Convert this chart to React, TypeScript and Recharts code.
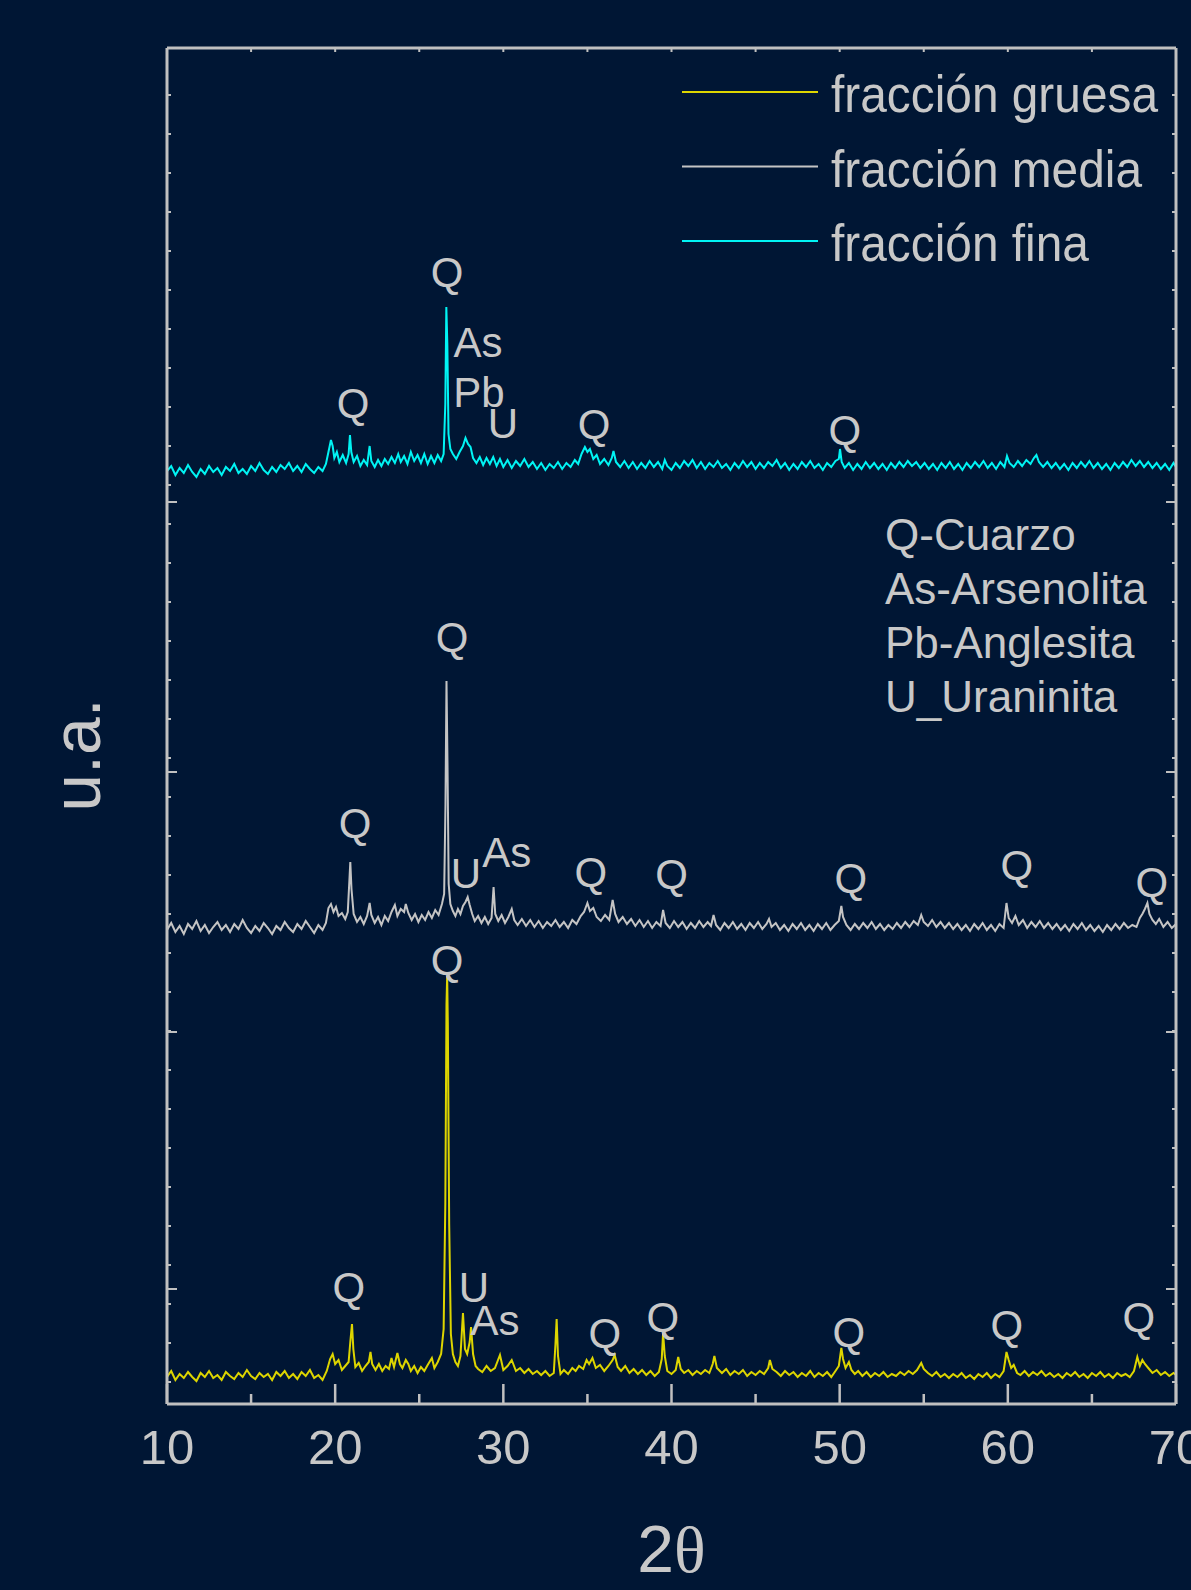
import React from 'react';
import { LineChart, Line, XAxis, YAxis, ReferenceDot, Legend } from 'recharts';

// XRD patterns: 2θ (deg) vs intensity (u.a.), each fraction offset vertically
const fracGruesa: [number, number][] = [
  [10.0, 27], [10.25, 33], [10.5, 24], [10.75, 30], [11.0, 26], [11.25, 32], [11.5, 27], [11.75, 23],
  [12.0, 31], [12.25, 27], [12.5, 33], [12.75, 26], [13.0, 29], [13.25, 24], [13.5, 32], [13.75, 28],
  [14.0, 25], [14.25, 31], [14.5, 27], [14.75, 34], [15.0, 28], [15.25, 25], [15.5, 31], [15.75, 27],
  [16.0, 30], [16.25, 24], [16.5, 32], [16.75, 28], [17.0, 33], [17.25, 26], [17.5, 30], [17.75, 25],
  [18.0, 32], [18.25, 28], [18.5, 34], [18.75, 26], [19.0, 29], [19.25, 24], [19.5, 33], [19.7, 45],
  [19.85, 50], [20.0, 40], [20.2, 44], [20.4, 34], [20.6, 38], [20.8, 42], [20.9, 62], [21.0, 80],
  [21.08, 55], [21.2, 37], [21.4, 41], [21.6, 33], [21.8, 38], [22.0, 42], [22.1, 52], [22.2, 40],
  [22.4, 34], [22.6, 40], [22.8, 33], [23.0, 38], [23.2, 35], [23.35, 46], [23.5, 37], [23.7, 51],
  [23.85, 40], [24.0, 36], [24.2, 44], [24.35, 40], [24.5, 33], [24.7, 38], [24.9, 31], [25.1, 37],
  [25.3, 33], [25.5, 39], [25.75, 46], [25.9, 36], [26.1, 42], [26.3, 50], [26.45, 75], [26.55, 200],
  [26.62, 400], [26.66, 428], [26.7, 380], [26.78, 180], [26.88, 70], [27.0, 50], [27.15, 42], [27.3, 38],
  [27.45, 48], [27.6, 91], [27.72, 55], [27.85, 50], [28.0, 62], [28.08, 77], [28.2, 50], [28.35, 38],
  [28.5, 35], [28.75, 32], [29.0, 38], [29.25, 33], [29.5, 36], [29.8, 49], [30.0, 34], [30.25, 38],
  [30.5, 44], [30.75, 33], [31.0, 36], [31.25, 31], [31.5, 35], [31.75, 30], [32.0, 33], [32.25, 29],
  [32.5, 33], [32.75, 28], [33.0, 31], [33.1, 60], [33.17, 85], [33.25, 48], [33.4, 30], [33.6, 34],
  [33.85, 30], [34.1, 36], [34.3, 33], [34.5, 38], [34.75, 35], [34.95, 44], [35.1, 40], [35.3, 46],
  [35.5, 36], [35.75, 39], [36.0, 33], [36.25, 38], [36.5, 44], [36.62, 49], [36.8, 37], [37.0, 33],
  [37.25, 38], [37.5, 31], [37.75, 35], [38.0, 30], [38.25, 34], [38.5, 29], [38.75, 33], [39.0, 28],
  [39.25, 32], [39.42, 45], [39.5, 71], [39.6, 48], [39.75, 33], [40.0, 30], [40.25, 34], [40.4, 47],
  [40.55, 35], [40.75, 31], [41.0, 34], [41.25, 29], [41.5, 33], [41.75, 30], [42.0, 34], [42.25, 31],
  [42.45, 40], [42.55, 48], [42.7, 36], [43.0, 31], [43.25, 35], [43.5, 29], [43.75, 33], [44.0, 30],
  [44.25, 34], [44.5, 28], [44.75, 32], [45.0, 29], [45.25, 33], [45.5, 30], [45.75, 36], [45.85, 44],
  [46.0, 35], [46.25, 32], [46.5, 28], [46.75, 33], [47.0, 29], [47.25, 32], [47.5, 27], [47.75, 31],
  [48.0, 28], [48.25, 33], [48.5, 27], [48.75, 31], [49.0, 28], [49.25, 32], [49.5, 27], [49.75, 33],
  [49.95, 38], [50.1, 56], [50.2, 45], [50.35, 36], [50.55, 42], [50.7, 34], [50.9, 30], [51.1, 33],
  [51.35, 28], [51.6, 32], [51.85, 27], [52.1, 31], [52.35, 28], [52.6, 32], [52.85, 27], [53.1, 30],
  [53.35, 28], [53.6, 32], [53.85, 29], [54.1, 33], [54.35, 30], [54.6, 34], [54.85, 41], [55.0, 35],
  [55.25, 31], [55.5, 28], [55.75, 32], [56.0, 27], [56.25, 30], [56.5, 26], [56.75, 30], [57.0, 27],
  [57.25, 31], [57.5, 26], [57.75, 29], [58.0, 25], [58.25, 30], [58.5, 27], [58.75, 31], [59.0, 26],
  [59.25, 30], [59.5, 27], [59.75, 33], [59.92, 52], [60.05, 44], [60.2, 36], [60.35, 39], [60.55, 31],
  [60.75, 29], [61.0, 33], [61.25, 28], [61.5, 32], [61.75, 29], [62.0, 33], [62.25, 28], [62.5, 31],
  [62.75, 27], [63.0, 30], [63.25, 26], [63.5, 31], [63.75, 28], [64.0, 32], [64.25, 27], [64.5, 30],
  [64.75, 26], [65.0, 31], [65.25, 28], [65.5, 32], [65.75, 27], [66.0, 30], [66.25, 26], [66.5, 31],
  [66.75, 28], [67.0, 30], [67.25, 27], [67.5, 33], [67.7, 47], [67.85, 38], [68.0, 44], [68.15, 40],
  [68.35, 36], [68.6, 31], [68.85, 34], [69.1, 29], [69.35, 32], [69.6, 28], [69.85, 31], [70.0, 29],
];

const fracMedia: [number, number][] = [
  [10.0, 474], [10.25, 481], [10.5, 472], [10.75, 478], [11.0, 470], [11.25, 480], [11.5, 475], [11.75, 483],
  [12.0, 473], [12.25, 479], [12.5, 471], [12.75, 477], [13.0, 482], [13.25, 474], [13.5, 479], [13.75, 472],
  [14.0, 480], [14.25, 475], [14.5, 484], [14.75, 476], [15.0, 471], [15.25, 478], [15.5, 473], [15.75, 481],
  [16.0, 476], [16.25, 470], [16.5, 478], [16.75, 474], [17.0, 482], [17.25, 476], [17.5, 472], [17.75, 480],
  [18.0, 475], [18.25, 483], [18.5, 477], [18.75, 471], [19.0, 479], [19.25, 474], [19.45, 481], [19.6, 496],
  [19.75, 500], [19.9, 492], [20.05, 497], [20.2, 488], [20.4, 491], [20.6, 485], [20.75, 492], [20.85, 525],
  [20.9, 542], [20.97, 515], [21.1, 490], [21.3, 482], [21.5, 487], [21.7, 480], [21.9, 488], [22.05, 501],
  [22.15, 489], [22.35, 481], [22.55, 487], [22.75, 479], [22.95, 488], [23.15, 483], [23.35, 492], [23.55, 499],
  [23.7, 488], [23.9, 495], [24.1, 492], [24.2, 500], [24.35, 491], [24.55, 484], [24.75, 490], [24.95, 482],
  [25.15, 489], [25.35, 484], [25.55, 492], [25.75, 486], [25.95, 494], [26.15, 489], [26.35, 500], [26.48, 510],
  [26.56, 600], [26.62, 723], [26.68, 640], [26.75, 520], [26.85, 500], [27.0, 493], [27.15, 488], [27.3, 495],
  [27.45, 490], [27.6, 498], [27.75, 502], [27.88, 507], [28.0, 499], [28.15, 490], [28.3, 483], [28.5, 488],
  [28.7, 481], [28.9, 487], [29.1, 480], [29.3, 486], [29.42, 517], [29.52, 490], [29.7, 483], [29.9, 489],
  [30.1, 481], [30.3, 487], [30.5, 495], [30.65, 484], [30.85, 479], [31.1, 485], [31.35, 478], [31.6, 484],
  [31.85, 477], [32.1, 483], [32.35, 476], [32.6, 482], [32.85, 478], [33.1, 484], [33.35, 477], [33.6, 482],
  [33.85, 476], [34.1, 484], [34.35, 480], [34.6, 488], [34.8, 492], [35.0, 501], [35.15, 493], [35.35, 496],
  [35.55, 487], [35.8, 483], [36.05, 489], [36.3, 484], [36.5, 504], [36.65, 490], [36.85, 482], [37.1, 487],
  [37.35, 480], [37.6, 485], [37.85, 478], [38.1, 484], [38.35, 477], [38.6, 483], [38.85, 476], [39.1, 482],
  [39.35, 478], [39.5, 494], [39.65, 481], [39.9, 476], [40.15, 483], [40.4, 477], [40.65, 482], [40.9, 475],
  [41.15, 481], [41.4, 476], [41.65, 483], [41.9, 477], [42.15, 482], [42.35, 478], [42.5, 489], [42.65, 479],
  [42.9, 474], [43.15, 481], [43.4, 476], [43.65, 482], [43.9, 475], [44.15, 480], [44.4, 474], [44.65, 481],
  [44.9, 476], [45.15, 482], [45.4, 475], [45.65, 480], [45.8, 485], [45.95, 477], [46.2, 481], [46.45, 474],
  [46.7, 479], [46.95, 473], [47.2, 480], [47.45, 475], [47.7, 481], [47.95, 474], [48.2, 479], [48.45, 473],
  [48.7, 480], [48.95, 475], [49.2, 481], [49.45, 474], [49.7, 479], [49.95, 483], [50.1, 498], [50.2, 487],
  [50.4, 479], [50.65, 474], [50.9, 480], [51.15, 475], [51.4, 481], [51.65, 476], [51.9, 482], [52.15, 475],
  [52.4, 480], [52.65, 474], [52.9, 479], [53.15, 475], [53.4, 481], [53.65, 476], [53.9, 482], [54.15, 477],
  [54.4, 483], [54.65, 479], [54.85, 489], [55.0, 482], [55.25, 478], [55.5, 484], [55.75, 477], [56.0, 482],
  [56.25, 476], [56.5, 481], [56.75, 475], [57.0, 480], [57.25, 474], [57.5, 479], [57.75, 473], [58.0, 480],
  [58.25, 475], [58.5, 481], [58.75, 474], [59.0, 479], [59.25, 473], [59.5, 480], [59.75, 476], [59.92, 501],
  [60.05, 486], [60.25, 481], [60.45, 488], [60.65, 479], [60.9, 484], [61.15, 476], [61.4, 482], [61.65, 477],
  [61.9, 483], [62.15, 476], [62.4, 481], [62.65, 475], [62.9, 480], [63.15, 474], [63.4, 479], [63.65, 473],
  [63.9, 480], [64.15, 475], [64.4, 481], [64.65, 474], [64.9, 479], [65.15, 473], [65.4, 478], [65.65, 472],
  [65.9, 479], [66.15, 474], [66.4, 480], [66.65, 475], [66.9, 481], [67.15, 476], [67.4, 479], [67.65, 477],
  [67.85, 486], [68.0, 490], [68.15, 495], [68.3, 501], [68.42, 490], [68.6, 484], [68.8, 480], [69.0, 485],
  [69.25, 477], [69.5, 482], [69.75, 476], [70.0, 480],
];

const fracFina: [number, number][] = [
  [10.0, 933], [10.25, 938], [10.5, 929], [10.75, 936], [11.0, 931], [11.25, 939], [11.5, 932], [11.75, 927],
  [12.0, 935], [12.25, 930], [12.5, 938], [12.75, 932], [13.0, 936], [13.25, 929], [13.5, 937], [13.75, 933],
  [14.0, 940], [14.25, 931], [14.5, 935], [14.75, 930], [15.0, 938], [15.25, 933], [15.5, 941], [15.75, 934],
  [16.0, 930], [16.25, 937], [16.5, 932], [16.75, 939], [17.0, 935], [17.25, 941], [17.5, 933], [17.75, 938],
  [18.0, 932], [18.25, 940], [18.5, 935], [18.75, 931], [19.0, 937], [19.25, 933], [19.45, 940], [19.6, 952],
  [19.75, 964], [19.85, 958], [19.95, 946], [20.1, 952], [20.25, 942], [20.45, 949], [20.65, 941], [20.8, 950],
  [20.88, 969], [20.96, 952], [21.1, 942], [21.3, 948], [21.5, 938], [21.7, 944], [21.9, 939], [22.05, 958],
  [22.15, 943], [22.35, 937], [22.55, 944], [22.75, 938], [22.95, 945], [23.15, 940], [23.35, 947], [23.55, 941],
  [23.75, 950], [23.9, 942], [24.1, 948], [24.3, 940], [24.5, 952], [24.7, 943], [24.9, 949], [25.1, 941],
  [25.3, 950], [25.5, 940], [25.7, 948], [25.9, 941], [26.1, 949], [26.3, 943], [26.45, 950], [26.55, 1000],
  [26.61, 1097], [26.67, 1060], [26.74, 970], [26.85, 955], [27.0, 950], [27.2, 945], [27.4, 952], [27.6, 958],
  [27.75, 966], [27.9, 960], [28.05, 957], [28.2, 946], [28.4, 941], [28.6, 947], [28.8, 939], [29.0, 946],
  [29.2, 940], [29.4, 947], [29.6, 938], [29.8, 945], [30.0, 937], [30.25, 944], [30.5, 936], [30.75, 943],
  [31.0, 938], [31.25, 945], [31.5, 937], [31.75, 942], [32.0, 935], [32.25, 941], [32.5, 934], [32.75, 940],
  [33.0, 936], [33.25, 942], [33.5, 935], [33.75, 941], [34.0, 937], [34.25, 944], [34.45, 940], [34.65, 950],
  [34.85, 957], [35.0, 952], [35.15, 955], [35.35, 945], [35.55, 949], [35.75, 940], [36.0, 945], [36.25, 939],
  [36.45, 946], [36.55, 953], [36.7, 942], [36.95, 937], [37.2, 943], [37.45, 936], [37.7, 942], [37.95, 935],
  [38.2, 941], [38.45, 936], [38.7, 943], [38.95, 937], [39.2, 942], [39.45, 935], [39.6, 944], [39.75, 938],
  [40.0, 934], [40.25, 941], [40.5, 936], [40.75, 943], [41.0, 938], [41.25, 944], [41.5, 936], [41.75, 942],
  [42.0, 935], [42.25, 941], [42.5, 937], [42.75, 943], [43.0, 936], [43.25, 940], [43.5, 934], [43.75, 941],
  [44.0, 936], [44.25, 943], [44.5, 937], [44.75, 942], [45.0, 935], [45.25, 941], [45.5, 936], [45.75, 942],
  [46.0, 938], [46.25, 944], [46.5, 936], [46.75, 941], [47.0, 934], [47.25, 940], [47.5, 935], [47.75, 942],
  [48.0, 937], [48.25, 943], [48.5, 936], [48.75, 940], [49.0, 934], [49.25, 941], [49.5, 937], [49.75, 943],
  [49.95, 945], [50.02, 955], [50.12, 942], [50.3, 936], [50.55, 941], [50.8, 934], [51.05, 940], [51.3, 935],
  [51.55, 942], [51.8, 936], [52.05, 941], [52.3, 935], [52.55, 940], [52.8, 934], [53.05, 941], [53.3, 936],
  [53.55, 942], [53.8, 937], [54.05, 943], [54.3, 938], [54.55, 942], [54.8, 936], [55.05, 941], [55.3, 935],
  [55.55, 940], [55.8, 934], [56.05, 941], [56.3, 936], [56.55, 942], [56.8, 935], [57.05, 940], [57.3, 934],
  [57.55, 941], [57.8, 936], [58.05, 942], [58.3, 937], [58.55, 943], [58.8, 936], [59.05, 941], [59.3, 935],
  [59.55, 942], [59.8, 937], [59.95, 948], [60.1, 941], [60.35, 937], [60.6, 943], [60.85, 938], [61.1, 944],
  [61.35, 940], [61.55, 946], [61.7, 949], [61.85, 942], [62.1, 937], [62.35, 942], [62.6, 936], [62.85, 941],
  [63.1, 935], [63.35, 940], [63.6, 934], [63.85, 941], [64.1, 936], [64.35, 942], [64.6, 937], [64.85, 943],
  [65.1, 936], [65.35, 941], [65.6, 935], [65.85, 940], [66.1, 934], [66.35, 941], [66.6, 936], [66.85, 942],
  [67.1, 937], [67.35, 944], [67.6, 938], [67.85, 943], [68.1, 937], [68.35, 942], [68.6, 936], [68.85, 941],
  [69.1, 935], [69.35, 940], [69.6, 934], [69.85, 941], [70.0, 937],
];

// phase labels: [2θ, intensity of text baseline, label]
const marksGruesa: [number, number, string][] = [
  [20.82, 102, 'Q'], [26.65, 429, 'Q'], [28.25, 102, 'U'], [29.5, 69, 'As'], [36.04, 56, 'Q'],
  [39.49, 72, 'Q'], [50.55, 57, 'Q'], [59.94, 64, 'Q'], [67.79, 72, 'Q'],
];
const marksMedia: [number, number, string][] = [
  [21.18, 566, 'Q'], [26.95, 752, 'Q'], [27.78, 516, 'U'], [30.21, 537, 'As'], [35.2, 517, 'Q'],
  [40.0, 515, 'Q'], [50.67, 511, 'Q'], [60.53, 524, 'Q'], [68.56, 507, 'Q'],
];
const marksFina: [number, number, string][] = [
  [21.07, 986, 'Q'], [26.65, 1117, 'Q'], [28.5, 1047, 'As'], [28.55, 997, 'Pb'], [29.98, 966, 'U'],
  [35.39, 965, 'Q'], [50.3, 959, 'Q'],
];

const seriesNames = ['fracción gruesa', 'fracción media', 'fracción fina'];
const mineralKey = ['Q-Cuarzo', 'As-Arsenolita', 'Pb-Anglesita', 'U_Uraninita'];

const xTicks = [10, 15, 20, 25, 30, 35, 40, 45, 50, 55, 60, 65, 70];
const topTicks = [15, 20, 25, 30, 35, 40, 45, 50, 55, 60, 65];
const yMinorTicks = [
  1309, 1270, 1231, 1192, 1153, 1114, 1075, 1036, 997, 958, 919, 880, 841, 802, 763, 724, 685,
  646, 607, 568, 529, 490, 451, 412, 373, 334, 295, 256, 217, 178, 139, 100, 61, 22,
];
const yMajorTicks = [902, 632, 372, 115];

const BG = '#001634';
const INK = '#c8c8c8';
const AXIS = '#c0c0c0';
const COLORS = ['#ddd500', '#c4c4c4', '#00f4f4'];
const SANS = "'Liberation Sans', Arial, sans-serif";

const toRows = (pts: [number, number][]) => pts.map(([t, v]) => ({ t, v }));

const BottomTick = (props: any) => {
  const { x, y, payload } = props;
  const major = payload.value % 10 === 0;
  return (
    <g>
      <line x1={x} y1={y} x2={x} y2={y - (major ? 20 : 10)} stroke={AXIS} strokeWidth={2.5} />
      {major && (
        <text x={x} y={y + 60} textAnchor="middle" fill={INK} fontSize={49} fontFamily={SANS}>
          {payload.value}
        </text>
      )}
    </g>
  );
};

const TopTick = (props: any) => {
  const { x, y } = props;
  return <line x1={x} y1={y} x2={x} y2={y + 4} stroke={AXIS} strokeWidth={2} />;
};

const SideTick = (dir: number) => (props: any) => {
  const { x, y, payload } = props;
  const len = yMajorTicks.includes(payload.value) ? 10 : 4;
  return <line x1={x} y1={y} x2={x + dir * len} y2={y} stroke={AXIS} strokeWidth={2} />;
};

const renderMarks = (marks: [number, number, string][], prefix: string) =>
  marks.map(([t, v, s], i) => (
    <ReferenceDot
      key={prefix + i}
      xAxisId="bottom"
      yAxisId="left"
      x={t}
      y={v}
      r={0}
      ifOverflow="visible"
      shape={(p: any) => (
        <text x={p.cx} y={p.cy} textAnchor="middle" fill={INK} fontSize={42} fontFamily={SANS}>
          {s}
        </text>
      )}
    />
  ));

const LegendBox = (props: any) => {
  const payload = [...(props.payload || [])].sort(
    (a: any, b: any) => seriesNames.indexOf(a.value) - seriesNames.indexOf(b.value)
  );
  return (
    <svg width={1191} height={1590} style={{ position: 'absolute', top: 0, left: 0 }}>
      {payload.map((entry: any, i: number) => (
        <g key={entry.value}>
          <line x1={682} x2={818} y1={92 + i * 74.5} y2={92 + i * 74.5} stroke={entry.color} strokeWidth={2} />
          <text
            transform={`translate(831 ${112 + i * 74.5}) scale(0.92 1)`}
            fill={INK}
            fontSize={52}
            fontFamily={SANS}
          >
            {entry.value}
          </text>
        </g>
      ))}
      {mineralKey.map((k, i) => (
        <text key={k} x={885} y={550 + i * 54} fill={INK} fontSize={44} fontFamily={SANS}>
          {k}
        </text>
      ))}
    </svg>
  );
};

const App: React.FC = () => {
  const series = [fracGruesa, fracMedia, fracFina];
  return (
    <div style={{ width: 1191, height: 1590, background: BG }}>
      <style>{`body { margin: 0; background: ${BG}; }`}</style>
      <LineChart width={1191} height={1590} margin={{ top: 38, right: 5, bottom: 66, left: 107 }}>
        <XAxis
          xAxisId="bottom"
          type="number"
          dataKey="t"
          domain={[10, 70]}
          ticks={xTicks}
          interval={0}
          allowDataOverflow
          height={120}
          axisLine={{ stroke: AXIS, strokeWidth: 3 }}
          tickLine={false}
          tickSize={0}
          tickMargin={0}
          tick={BottomTick}
          label={{
            content: (p: any) => {
              const vb = p.viewBox;
              return (
                <text x={vb.x + vb.width / 2} y={vb.y + 168} textAnchor="middle" fill={INK} fontSize={66} fontFamily={SANS}>
                  2<tspan fontFamily="'Liberation Serif', serif">θ</tspan>
                </text>
              );
            },
          }}
        />
        <XAxis
          xAxisId="top"
          orientation="top"
          type="number"
          dataKey="t"
          domain={[10, 70]}
          ticks={topTicks}
          interval={0}
          allowDataOverflow
          height={10}
          axisLine={{ stroke: AXIS, strokeWidth: 3 }}
          tickLine={false}
          tickSize={0}
          tickMargin={0}
          tick={TopTick}
        />
        <YAxis
          yAxisId="left"
          type="number"
          domain={[0, 1356]}
          ticks={[...yMinorTicks, ...yMajorTicks]}
          interval={0}
          allowDataOverflow
          width={60}
          axisLine={{ stroke: AXIS, strokeWidth: 3 }}
          tickLine={false}
          tickSize={0}
          tickMargin={0}
          tick={SideTick(1)}
          label={{
            content: (p: any) => {
              const vb = p.viewBox;
              const cx = vb.x - 7;
              const cy = vb.y + vb.height / 2 + 29;
              return (
                <text x={cx} y={cy} transform={`rotate(-90 ${cx} ${cy})`} textAnchor="middle" fill={INK} fontSize={68} fontFamily={SANS}>
                  u.a.
                </text>
              );
            },
          }}
        />
        <YAxis
          yAxisId="right"
          orientation="right"
          type="number"
          domain={[0, 1356]}
          ticks={[...yMinorTicks, ...yMajorTicks]}
          interval={0}
          allowDataOverflow
          width={10}
          axisLine={{ stroke: AXIS, strokeWidth: 3 }}
          tickLine={false}
          tickSize={0}
          tickMargin={0}
          tick={SideTick(-1)}
        />
        {series.map((pts, i) => (
          <Line
            key={seriesNames[i]}
            xAxisId="bottom"
            yAxisId="left"
            data={toRows(pts)}
            dataKey="v"
            name={seriesNames[i]}
            type="linear"
            stroke={COLORS[i]}
            strokeWidth={2}
            dot={false}
            activeDot={false}
            isAnimationActive={false}
          />
        ))}
        {renderMarks(marksGruesa, 'g')}
        {renderMarks(marksMedia, 'm')}
        {renderMarks(marksFina, 'f')}
        <Legend
          layout="horizontal"
          verticalAlign="middle"
          align="center"
          content={LegendBox}
          wrapperStyle={{ top: 0, left: 0, width: 1191, height: 1590, pointerEvents: 'none' }}
        />
      </LineChart>
    </div>
  );
};

export default App;
